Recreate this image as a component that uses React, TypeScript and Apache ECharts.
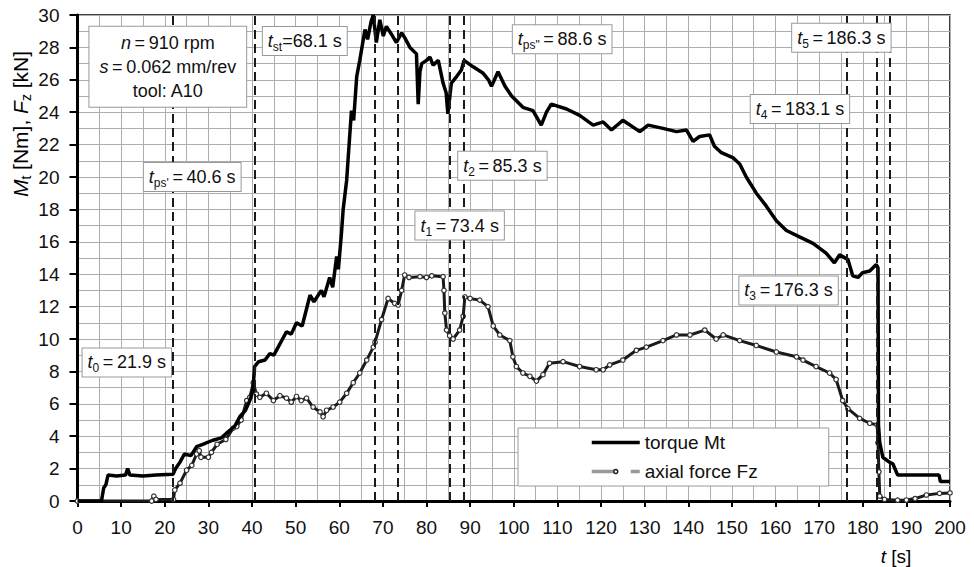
import { useEffect, useRef } from "react";
import * as echarts from "echarts";

// ---- data ----
const timeAxis = { min: 0, max: 200, interval: 10 };
const valueAxis = { min: 0, max: 30, interval: 2 };

const torqueMt: [number, number][] = [
  [0, 0], [5.5, 0], [6, 0.8], [6.5, 1.0], [7, 1.6], [9, 1.55], [11, 1.6], [11.5, 2.0], [12, 1.6],
  [15, 1.55], [18, 1.6], [21.9, 1.65], [22.5, 2.0], [23.5, 2.4], [24.5, 2.9], [26, 2.8], [27.3, 3.35],
  [28.7, 3.5], [31, 3.75], [33, 3.9], [34.2, 4.2], [36, 4.6], [37.2, 5.2], [38.5, 5.6], [39.5, 6.2],
  [40.2, 6.8], [40.6, 8.3], [41.5, 8.6], [43, 8.7], [44.1, 9.1], [45, 9.0], [46.4, 9.7], [47.9, 10.45],
  [49, 10.3], [50.2, 11.0], [51.5, 10.8], [53.3, 12.7], [54.2, 12.3], [55.9, 13.0], [56.5, 12.6],
  [57.8, 13.8], [58.5, 13.2], [59.4, 15.1], [59.8, 14.3], [60.5, 16.5], [60.9, 18.0], [61.7, 19.8],
  [62.0, 21.0], [62.8, 24.1], [63.3, 23.5], [64.0, 26.2], [64.7, 27.2], [65.9, 29.1], [66.5, 28.5],
  [67.3, 29.6], [67.8, 30], [68.5, 28.3], [69.3, 29.7], [70.1, 28.7], [70.8, 29.3], [72, 28.8],
  [73.1, 28.3], [74.3, 28.9], [75, 28.6], [76.2, 28.0], [77.7, 27.6], [78.1, 24.5], [78.5, 26.5],
  [78.9, 27.0], [80, 27.2], [80.8, 27.4], [81.5, 26.9], [82.7, 27.2], [83.8, 25.8], [84.5, 25.2],
  [84.9, 23.9], [85.7, 25.8], [86.9, 26.2], [88, 26.6], [88.6, 27.2], [90.7, 26.8], [93.0, 26.4],
  [94.2, 26.0], [94.9, 25.6], [96.4, 26.5], [98, 25.6], [99.5, 25.0], [102.1, 24.3], [104.4, 24.1],
  [106.3, 23.2], [107.5, 24.0], [108.6, 24.5], [112.1, 24.2], [115.1, 23.8], [118.2, 23.2],
  [120.5, 23.4], [122.4, 22.9], [125, 23.5], [128.9, 22.8], [130.8, 23.2], [134.2, 23.0],
  [137.3, 22.8], [139.6, 22.9], [141.1, 22.2], [142.6, 22.5], [144.9, 22.6], [146, 21.9],
  [147.6, 21.5], [150.2, 21.2], [151.8, 20.8], [153.3, 20.0], [155.6, 19.0], [157.9, 18.2],
  [160.2, 17.3], [162.5, 16.7], [165.5, 16.3], [168.6, 15.9], [171.6, 15.3], [173.5, 14.7],
  [174.7, 15.2], [176.6, 14.9], [177.7, 13.9], [178.9, 13.8], [180, 14.1], [181.6, 14.2],
  [183.1, 14.6], [183.5, 14.4], [183.6, 4.7], [183.9, 3.6], [184.6, 2.7], [186.1, 2.4],
  [186.9, 2.3], [188, 1.6], [197.5, 1.6], [197.8, 1.2], [200, 1.2],
];

const axialFz: [number, number][] = [
  [0, 0], [17, 0], [17.5, 0.3], [18, 0.1], [22, 0.1], [22.3, 0.68], [23.5, 1.1], [25, 1.9],
  [26.2, 2.2], [27.3, 2.9], [27.9, 3.1], [28.3, 2.7], [30, 2.7], [30.7, 3.0], [32, 3.5], [34, 3.8],
  [35.7, 4.5], [36.5, 4.6], [37.5, 5.0], [38.8, 6.2], [39.5, 6.4], [40.3, 7.3], [41, 6.6],
  [41.8, 6.4], [43.3, 6.65], [44.9, 6.2], [46.4, 6.5], [47.9, 6.35], [49, 6.1], [50.2, 6.45],
  [51.3, 6.2], [52.5, 6.35], [54, 5.8], [55.6, 5.5], [56.3, 5.2], [57.1, 5.6], [58.6, 5.8],
  [60.1, 6.1], [61.7, 6.65], [63.2, 7.3], [64.7, 7.9], [66.3, 8.7], [67.8, 9.5], [68.2, 9.8],
  [69.7, 11.2], [71.2, 12.5], [72.7, 12.2], [73.5, 12.1], [74.3, 13.0], [75, 13.95], [76, 13.8],
  [78.5, 13.85], [80, 13.8], [81.2, 13.9], [83.8, 13.85], [84.0, 13.0], [84.2, 11.6], [84.6, 10.55],
  [85.3, 10.2], [86.1, 10.0], [87.6, 10.55], [88.4, 11.4], [88.8, 12.6], [90, 12.5], [92.2, 12.4],
  [94.1, 12.0], [95.3, 10.8], [96.8, 10.25], [99.1, 9.9], [99.8, 8.9], [100.6, 8.3], [102.1, 7.9],
  [103.7, 7.7], [105.2, 7.4], [106.7, 7.8], [108.2, 8.5], [111.3, 8.6], [115.1, 8.3], [118.9, 8.1],
  [120.5, 8.1], [122, 8.4], [125, 8.7], [128.1, 9.3], [130.4, 9.5], [134.2, 9.9], [137.3, 10.25],
  [140.4, 10.25], [143.8, 10.55], [146.4, 10.0], [148, 10.25], [151.8, 9.9], [155.6, 9.6],
  [160.2, 9.2], [164.8, 8.9], [166.3, 8.7], [169.3, 8.3], [172.4, 7.9], [173.9, 7.5], [175.4, 6.2],
  [176.6, 5.7], [179.3, 5.1], [181.6, 4.8], [183.3, 4.7], [183.5, 3.6], [183.7, 1.8], [183.9, 0.3],
  [185, 0.1], [188, 0.05], [190, 0.06], [192, 0.15], [194.6, 0.37], [197.6, 0.47], [200, 0.5],
];

const eventTimes = [21.9, 40.6, 68.1, 73.4, 85.3, 88.6, 176.3, 183.1, 186.3];
const eventSubs = ["0", "ps'", "st", "1", "2", 'ps"', "3", "4", "5"];
const processParams = ["910 rpm", "0.062 mm/rev", "A10"];
const seriesNames = ["torque Mt", "axial force Fz"];

// ---- layout (label anchors in data units) ----
const eventLabelAnchors: [number, number][] = [
  [11.3, 8.55], [26.3, 20.0], [52.1, 28.4], [87.6, 17.0], [97.4, 20.7],
  [111.1, 28.5], [163.0, 13.0], [165.6, 24.2], [175.1, 28.6],
];
const paramsAnchor: [number, number] = [20.7, 26.8];

const FONT = '"Liberation Sans", Arial, Helvetica, sans-serif';
const INK = "#111";

const labelRich = {
  i: { fontFamily: FONT, fontSize: 18, fontStyle: "italic", color: INK, lineHeight: 24, align: "center" },
  n: { fontFamily: FONT, fontSize: 18, color: INK, lineHeight: 24, align: "center" },
  s: { fontFamily: FONT, fontSize: 12, color: INK, lineHeight: 14, verticalAlign: "bottom", align: "center" },
};

const axisNameRich = {
  i: { fontFamily: FONT, fontSize: 21, fontStyle: "italic", color: INK, lineHeight: 26 },
  n: { fontFamily: FONT, fontSize: 21, color: INK, lineHeight: 26 },
  s: { fontFamily: FONT, fontSize: 14, color: INK, lineHeight: 16, verticalAlign: "bottom" },
};

const TS = "\u2009";

function eventLabel(i: number): string {
  const eq = eventSubs[i] === "st" ? "=" : `${TS}=${TS}`;
  return `{i|t}{s|${eventSubs[i]}}{n|${eq}${eventTimes[i].toFixed(1)} s}`;
}

export default function App() {
  const ref = useRef<HTMLDivElement>(null);

  useEffect(() => {
    const chart = echarts.init(ref.current!, null, { renderer: "svg" });

    const labelData: any[] = eventTimes.map((_, i) => ({
      value: eventLabelAnchors[i],
      label: { formatter: () => eventLabel(i) },
    }));
    labelData.push({
      value: paramsAnchor,
      label: {
        padding: [4, 10, 4, 10],
        formatter: () =>
          `{i|n}{n|${TS}=${TS}${processParams[0]}}\n{i|s}{n|${TS}=${TS}${processParams[1]}}\n{n|tool: ${processParams[2]}}`,
      },
    });

    const option: any = {
      animation: false,
      backgroundColor: "#fff",
      textStyle: { fontFamily: FONT },
      grid: {
        left: 77.5, right: 24, top: 15, bottom: 66,
        show: true, borderColor: "#000", borderWidth: 1.5, backgroundColor: "transparent",
      },
      legend: {
        orient: "vertical",
        left: 518, top: 428,
        padding: [5, 71, 5, 72],
        itemWidth: 48, itemHeight: 5, itemGap: 10,
        backgroundColor: "#fff", borderColor: "#999", borderWidth: 1,
        textStyle: { fontFamily: FONT, fontSize: 19, color: INK },
        data: [
          {
            name: seriesNames[0],
            lineStyle: { color: "#000", width: 3.5 },
            itemStyle: { opacity: 0 },
          },
          {
            name: seriesNames[1],
            lineStyle: { color: "#999", type: [23, 16], width: 3.5 },
            itemStyle: { color: "#fff", borderColor: "#222", borderWidth: 1.5, opacity: 1 },
          },
        ],
      },
      xAxis: {
        type: "value",
        min: timeAxis.min, max: timeAxis.max, interval: timeAxis.interval,
        axisLine: { lineStyle: { color: "#000", width: 3 } },
        axisTick: { show: true, length: 6, lineStyle: { color: "#000", width: 2 } },
        axisLabel: { fontFamily: FONT, fontSize: 19, color: INK, margin: 17 },
        splitLine: { show: true, lineStyle: { color: "#adadad", width: 1 } },
        minorTick: { show: false, splitNumber: 2 },
        minorSplitLine: { show: true, lineStyle: { color: "#adadad", width: 1 } },
      },
      yAxis: {
        type: "value",
        min: valueAxis.min, max: valueAxis.max, interval: valueAxis.interval,
        axisLine: { show: true, lineStyle: { color: "#000", width: 3 } },
        axisTick: { show: true, length: 8, lineStyle: { color: "#000", width: 2 } },
        axisLabel: { fontFamily: FONT, fontSize: 19, color: INK, margin: 18 },
        splitLine: { show: true, lineStyle: { color: "#adadad", width: 1 } },
        minorTick: { show: false, splitNumber: 2 },
        minorSplitLine: { show: true, lineStyle: { color: "#adadad", width: 1 } },
      },
      series: [
        {
          name: seriesNames[1],
          type: "line",
          data: axialFz,
          symbol: "circle",
          symbolSize: 4.5,
          showSymbol: true,
          showAllSymbol: true,
          lineStyle: { color: "#1a1a1a", width: 3 },
          itemStyle: { color: "#fff", borderColor: "#333", borderWidth: 1.2 },
          z: 3,
        },
        {
          name: seriesNames[0],
          type: "line",
          data: torqueMt,
          symbol: "none",
          lineStyle: { color: "#000", width: 3.5 },
          itemStyle: { color: "#000" },
          z: 4,
          markLine: {
            silent: true,
            symbol: ["none", "none"],
            label: { show: false },
            lineStyle: { color: "#1a1a1a", type: [9, 5], width: 2 },
            data: eventTimes.map((t) => ({ xAxis: t })),
          },
        },
        {
          name: "labels",
          type: "scatter",
          data: labelData,
          symbolSize: 0,
          silent: true,
          z: 10,
          itemStyle: { opacity: 1 },
          label: {
            show: true,
            position: "inside",
            align: "center",
            verticalAlign: "middle",
            color: INK,
            opacity: 1,
            backgroundColor: "#fff",
            borderColor: "#999",
            borderWidth: 1,
            padding: [2, 5, 2, 5],
            rich: labelRich,
          },
        },
      ],
      graphic: [
        {
          type: "text",
          x: 20, y: 124, rotation: Math.PI / 2,
          style: {
            text: "{i|M}{s|t}{n| [Nm], }{i|F}{s|z}{n| [kN]}",
            rich: axisNameRich,
            align: "center", verticalAlign: "middle",
          },
        },
        {
          type: "text",
          x: 896, y: 556,
          style: {
            text: "{i|t}{n| [s]}",
            rich: {
              i: { fontFamily: FONT, fontSize: 19, fontStyle: "italic", color: INK },
              n: { fontFamily: FONT, fontSize: 19, color: INK },
            },
            align: "center", verticalAlign: "middle",
          },
        },
      ],
    };

    chart.setOption(option);
    return () => chart.dispose();
  }, []);

  return <div ref={ref} style={{ position: "absolute", left: 0, top: 0, width: 974, height: 567 }} />;
}
